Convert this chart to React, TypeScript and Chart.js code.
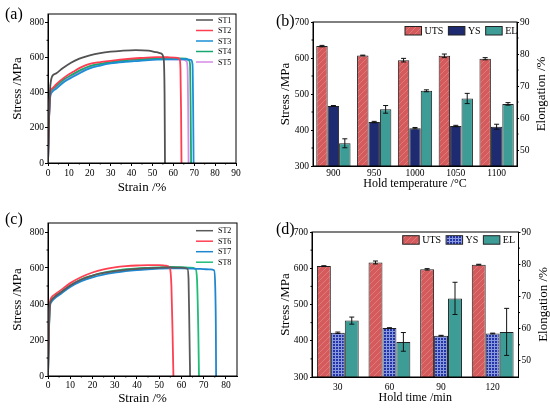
import React, { useEffect, useRef } from 'react';
import { Chart, registerables, ChartConfiguration, Plugin } from 'chart.js';

Chart.register(...registerables);

const SERIF = '"Liberation Serif", "Times New Roman", serif';

// (a) stress-strain curves, [strain %, stress MPa]
const st1: [number, number][] = [[0, 0], [0.5, 250], [1, 420], [1.5, 475], [2, 495], [4, 512], [7, 540], [11, 572], [15, 595], [20, 614], [25, 627], [30, 635], [35, 640], [42, 644], [48, 641], [52, 632], [54, 626], [55.3, 600], [55.8, 400], [56, 0]];
const st2: [number, number][] = [[0, 0], [0.5, 260], [1, 400], [2, 425], [4, 450], [8, 490], [12, 520], [16, 547], [20, 566], [25, 576], [30, 583], [37, 592], [44, 599], [52, 604], [58, 603], [62, 600], [63, 592], [63.4, 540], [63.7, 300], [63.9, 0]];
const st3: [number, number][] = [[0, 0], [0.5, 250], [1, 370], [2, 405], [4, 425], [8, 465], [12, 492], [16, 518], [20, 540], [25, 556], [30, 568], [37, 577], [44, 583], [52, 590], [60, 592], [66, 592], [68.5, 588], [69.2, 560], [69.5, 300], [69.7, 0]];
const st4: [number, number][] = [[0, 0], [0.5, 260], [1, 390], [2, 420], [4, 440], [8, 480], [12, 507], [16, 533], [20, 553], [25, 566], [30, 576], [37, 586], [44, 591], [52, 597], [60, 598], [66, 595], [67.5, 585], [68, 560], [68.3, 300], [68.5, 0]];
const st5: [number, number][] = [[0, 0], [0.5, 250], [1, 380], [2, 410], [4, 432], [8, 472], [12, 498], [16, 525], [20, 546], [25, 561], [30, 572], [37, 582], [44, 587], [52, 593], [60, 592], [65, 590], [66.3, 580], [66.8, 540], [67.1, 300], [67.3, 0]];

// (c) stress-strain curves
const st2c: [number, number][] = [[0, 0], [0.4, 240], [0.8, 385], [1.5, 420], [3, 440], [5, 458], [10, 503], [15, 536], [20, 558], [25, 573], [30, 583], [35, 590], [40, 595], [45, 599], [50, 601], [55, 603], [60, 602], [62.7, 596], [63.2, 540], [63.6, 250], [63.9, 0]];
const st6: [number, number][] = [[0, 0], [0.4, 250], [0.8, 400], [1.5, 435], [3, 452], [5, 470], [10, 516], [15, 550], [20, 575], [25, 592], [30, 603], [35, 610], [40, 614], [45, 616], [50, 616], [53, 613], [54.8, 600], [55.5, 500], [56, 250], [56.4, 0]];
const st7: [number, number][] = [[0, 0], [0.4, 230], [0.8, 375], [1.5, 410], [3, 432], [5, 450], [10, 495], [15, 527], [20, 548], [25, 563], [30, 574], [35, 583], [40, 589], [45, 593], [50, 596], [55, 598], [60, 598], [65, 597], [70, 594], [73, 592], [74.7, 588], [75.2, 500], [75.5, 250], [75.6, 0]];
const st8: [number, number][] = [[0, 0], [0.4, 240], [0.8, 390], [1.5, 420], [3, 440], [5, 458], [10, 503], [15, 537], [20, 558], [25, 574], [30, 585], [35, 593], [40, 598], [45, 601], [50, 604], [55, 606], [60, 605], [64, 602], [66.3, 596], [67, 540], [67.6, 250], [67.9, 0]];

const stressTicks = [0, 200, 400, 600, 800];
const strainTicksA = [0, 10, 20, 30, 40, 50, 60, 70, 80, 90];
const strainTicksC = [0, 10, 20, 30, 40, 50, 60, 70, 80];

// (b) properties vs hold temperature
const holdTemps = ['900', '950', '1000', '1050', '1100'];
const utsByTemp = [633, 607, 594, 606, 598];
const utsByTempErr = [2, 1, 5, 5, 3];
const ysByTemp = [467, 422, 405, 411, 409];
const ysByTempErr = [1, 2, 2, 2, 7];
const elByTemp = [52.1, 62.7, 68.5, 66.1, 64.4];
const elByTempErr = [1.4, 1.2, 0.3, 1.6, 0.4];

// (d) properties vs hold time
const holdTimes = ['30', '60', '90', '120'];
const utsByTime = [606, 616, 597, 610];
const utsByTimeErr = [1, 4, 2, 1];
const ysByTime = [422, 435, 414, 420];
const ysByTimeErr = [2, 1, 1, 1];
const elByTime = [62.5, 55.9, 69.4, 59.0];
const elByTimeErr = [1.1, 2.9, 5.0, 7.3];

const stressBarTicks = [300, 400, 500, 600, 700];
const elongationTicks = [50, 60, 70, 80, 90];

const mids = (t: number[]) => t.slice(1).map((v, i) => (v + t[i]) / 2);

const framePlugin: Plugin = {
    id: 'frame',
    afterDraw(chart) {
        const { ctx, chartArea: a } = chart;
        ctx.save();
        ctx.strokeStyle = '#000';
        ctx.lineWidth = 1;
        ctx.strokeRect(a.left, a.top, a.right - a.left, a.bottom - a.top);
        ctx.restore();
    },
};

const minorTicks = (axes: { id: string; values: number[] }[]): Plugin => ({
    id: 'minorTicks',
    afterDraw(chart) {
        const { ctx, chartArea: a } = chart;
        ctx.save();
        ctx.strokeStyle = '#000';
        ctx.lineWidth = 1;
        ctx.beginPath();
        axes.forEach(({ id, values }) => {
            const s = chart.scales[id];
            values.forEach((v) => {
                const p = s.getPixelForValue(v);
                if (s.isHorizontal()) {
                    ctx.moveTo(p, a.bottom);
                    ctx.lineTo(p, a.bottom + 1.5);
                } else if (s.position === 'left') {
                    ctx.moveTo(a.left, p);
                    ctx.lineTo(a.left - 1.5, p);
                } else {
                    ctx.moveTo(a.right, p);
                    ctx.lineTo(a.right + 1.5, p);
                }
            });
        });
        ctx.stroke();
        ctx.restore();
    },
});

const panelLabel = (text: string, x: number, y: number): Plugin => ({
    id: 'panelLabel',
    afterDraw(chart) {
        const ctx = chart.ctx;
        ctx.save();
        ctx.font = `16px ${SERIF}`;
        ctx.fillStyle = '#000';
        ctx.textBaseline = 'middle';
        ctx.fillText(text, x, y);
        ctx.restore();
    },
});

// line legend drawn inside the plot, top right
const lineLegend = (x: number, y: number, dy: number): Plugin => ({
    id: 'lineLegend',
    afterDraw(chart) {
        const ctx = chart.ctx;
        ctx.save();
        ctx.font = `8px ${SERIF}`;
        ctx.textBaseline = 'middle';
        chart.data.datasets.forEach((ds: any, i) => {
            const yy = y + i * dy;
            ctx.strokeStyle = ds.borderColor;
            ctx.lineWidth = 1.5;
            ctx.beginPath();
            ctx.moveTo(x, yy);
            ctx.lineTo(x + 17, yy);
            ctx.stroke();
            ctx.fillStyle = '#000';
            ctx.fillText(ds.label, x + 22, yy + 0.5);
        });
        ctx.restore();
    },
});

const barLegend = (x: number, y: number): Plugin => ({
    id: 'barLegend',
    afterDraw(chart) {
        const ctx = chart.ctx;
        ctx.save();
        ctx.font = `10px ${SERIF}`;
        ctx.textBaseline = 'middle';
        let xx = x;
        chart.data.datasets.forEach((ds: any) => {
            ctx.fillStyle = ds.backgroundColor;
            ctx.fillRect(xx, y, 16.5, 8.5);
            ctx.strokeStyle = '#222';
            ctx.lineWidth = 1;
            ctx.strokeRect(xx, y, 16.5, 8.5);
            ctx.fillStyle = '#000';
            ctx.fillText(ds.label, xx + 19.5, y + 4.8);
            xx += 19.5 + ctx.measureText(ds.label).width + 5;
        });
        ctx.restore();
    },
});

const errorBars: Plugin = {
    id: 'errorBars',
    afterDatasetsDraw(chart) {
        const ctx = chart.ctx;
        ctx.save();
        ctx.strokeStyle = '#111';
        ctx.lineWidth = 1;
        chart.data.datasets.forEach((ds: any, i) => {
            const errs: number[] | undefined = ds.errors;
            if (!errs) return;
            const meta = chart.getDatasetMeta(i);
            const ys = chart.scales[meta.yAxisID as string];
            meta.data.forEach((bar: any, j) => {
                const v = ds.data[j] as number;
                const top = ys.getPixelForValue(v + errs[j]);
                const bot = ys.getPixelForValue(v - errs[j]);
                ctx.beginPath();
                ctx.moveTo(bar.x, top);
                ctx.lineTo(bar.x, bot);
                ctx.moveTo(bar.x - 2.5, top);
                ctx.lineTo(bar.x + 2.5, top);
                ctx.moveTo(bar.x - 2.5, bot);
                ctx.lineTo(bar.x + 2.5, bot);
                ctx.stroke();
            });
        });
        ctx.restore();
    },
};

const rightTitle = (text: string, offset: number): Plugin => ({
    id: 'rightTitle',
    afterDraw(chart) {
        const { ctx, chartArea: a } = chart;
        ctx.save();
        ctx.translate(a.right + offset, (a.top + a.bottom) / 2);
        ctx.rotate(-Math.PI / 2);
        ctx.font = `13px ${SERIF}`;
        ctx.fillStyle = '#000';
        ctx.textAlign = 'center';
        ctx.textBaseline = 'middle';
        ctx.fillText(text, 0, 0);
        ctx.restore();
    },
});

function hatch(bg: string, line: string): CanvasPattern {
    const c = document.createElement('canvas');
    c.width = 6;
    c.height = 6;
    const g = c.getContext('2d')!;
    g.fillStyle = bg;
    g.fillRect(0, 0, 6, 6);
    g.strokeStyle = line;
    g.lineWidth = 1;
    g.beginPath();
    g.moveTo(-1, 7);
    g.lineTo(7, -1);
    g.moveTo(-1, 1);
    g.lineTo(1, -1);
    g.moveTo(5, 7);
    g.lineTo(7, 5);
    g.stroke();
    return g.createPattern(c, 'repeat')!;
}

function gridFill(bg: string, line: string): CanvasPattern {
    const c = document.createElement('canvas');
    c.width = 3;
    c.height = 3;
    const g = c.getContext('2d')!;
    g.fillStyle = bg;
    g.fillRect(0, 0, 3, 3);
    g.fillStyle = line;
    g.fillRect(0, 0, 3, 1);
    g.fillRect(0, 0, 1, 3);
    return g.createPattern(c, 'repeat')!;
}

const tickFont = { family: SERIF, size: 9.5 };
const titleFont = { family: SERIF, size: 13 };

type Curve = { label: string; points: [number, number][]; color: string };

function curveConfig(p: {
    curves: Curve[];
    xMax: number;
    xTicks: number[];
    padding: { left: number; top: number; right: number; bottom: number };
    yWidth: number;
    xHeight: number;
    xTickPad: number;
    label: string;
    labelY: number;
    legendY: number;
}): ChartConfiguration<'line'> {
    return {
        type: 'line',
        data: {
            datasets: p.curves.map((c) => ({
                label: c.label,
                data: c.points.map(([x, y]) => ({ x, y })),
                borderColor: c.color,
                backgroundColor: c.color,
                borderWidth: 1.8,
                pointRadius: 0,
                cubicInterpolationMode: 'monotone' as const,
            })),
        },
        options: {
            responsive: true,
            maintainAspectRatio: false,
            animation: false,
            layout: { padding: p.padding },
            plugins: { legend: { display: false }, tooltip: { enabled: false } },
            scales: {
                x: {
                    type: 'linear',
                    min: 0,
                    max: p.xMax,
                    afterBuildTicks: (s: any) => { s.ticks = p.xTicks.map((value) => ({ value })); },
                    afterFit: (s: any) => { s.height = p.xHeight; },
                    grid: { drawOnChartArea: false, tickLength: 3, color: '#000' },
                    border: { color: '#000' },
                    ticks: { font: tickFont, color: '#000', padding: p.xTickPad, maxRotation: 0 },
                    title: { display: true, text: 'Strain /%', font: titleFont, color: '#000', padding: 0 },
                },
                y: {
                    min: 0,
                    max: 850,
                    afterBuildTicks: (s: any) => { s.ticks = stressTicks.map((value) => ({ value })); },
                    afterFit: (s: any) => { s.width = p.yWidth; },
                    grid: { drawOnChartArea: false, tickLength: 3, color: '#000' },
                    border: { color: '#000' },
                    ticks: { font: tickFont, color: '#000', padding: 1 },
                    title: { display: true, text: 'Stress /MPa', font: titleFont, color: '#000', padding: 0 },
                },
            },
        },
        plugins: [
            framePlugin,
            minorTicks([
                { id: 'x', values: mids(p.xTicks) },
                { id: 'y', values: mids(stressTicks) },
            ]),
            lineLegend(196, p.legendY, 10.5),
            panelLabel(p.label, 5, p.labelY),
        ],
    };
}

function barConfig(p: {
    labels: string[];
    uts: number[]; utsErr: number[];
    ys: number[]; ysErr: number[];
    el: number[]; elErr: number[];
    ysFill: CanvasPattern | string;
    xTitle: string;
    catPct: number;
    padding: { left: number; top: number; right: number; bottom: number };
    yWidth: number;
    y1Width: number;
    xHeight: number;
    xTickPad: number;
    label: string;
    labelY: number;
    legendX: number;
    legendY: number;
}): ChartConfiguration<'bar'> {
    const common = { borderColor: '#222', borderWidth: 1, borderSkipped: false as const, barPercentage: 1, categoryPercentage: p.catPct };
    return {
        type: 'bar',
        data: {
            labels: p.labels,
            datasets: [
                { label: 'UTS', data: p.uts, errors: p.utsErr, backgroundColor: hatch('#d45a5c', '#dd7b7c'), yAxisID: 'y', ...common } as any,
                { label: 'YS', data: p.ys, errors: p.ysErr, backgroundColor: p.ysFill, yAxisID: 'y', ...common } as any,
                { label: 'EL', data: p.el, errors: p.elErr, backgroundColor: '#3d9d96', yAxisID: 'y1', ...common } as any,
            ],
        },
        options: {
            responsive: true,
            maintainAspectRatio: false,
            animation: false,
            layout: { padding: p.padding },
            plugins: { legend: { display: false }, tooltip: { enabled: false } },
            scales: {
                x: {
                    afterFit: (s: any) => { s.height = p.xHeight; },
                    grid: { drawOnChartArea: false, tickLength: 2, color: 'rgba(0,0,0,0)' },
                    border: { color: '#000' },
                    ticks: { font: tickFont, color: '#000', padding: p.xTickPad },
                    title: { display: true, text: p.xTitle, font: { family: SERIF, size: 12 }, color: '#000', padding: 0 },
                },
                y: {
                    position: 'left',
                    min: 300,
                    max: 700,
                    afterBuildTicks: (s: any) => { s.ticks = stressBarTicks.map((value) => ({ value })); },
                    afterFit: (s: any) => { s.width = p.yWidth; },
                    grid: { drawOnChartArea: false, tickLength: 2, color: '#000' },
                    border: { color: '#000' },
                    ticks: { font: tickFont, color: '#000', padding: 2 },
                    title: { display: true, text: 'Stress /MPa', font: titleFont, color: '#000', padding: 0 },
                },
                y1: {
                    position: 'right',
                    min: 45,
                    max: 90,
                    afterBuildTicks: (s: any) => { s.ticks = elongationTicks.map((value) => ({ value })); },
                    afterFit: (s: any) => { s.width = p.y1Width; },
                    grid: { drawOnChartArea: false, tickLength: 2, color: '#000' },
                    border: { color: '#000' },
                    ticks: { font: tickFont, color: '#000', padding: 1 },
                },
            },
        },
        plugins: [
            errorBars,
            framePlugin,
            minorTicks([
                { id: 'y', values: mids(stressBarTicks) },
                { id: 'y1', values: mids(elongationTicks) },
            ]),
            barLegend(p.legendX, p.legendY),
            rightTitle('Elongation /%', 25),
            panelLabel(p.label, 1, p.labelY),
        ],
    };
}

const makeA = () =>
    curveConfig({
        curves: [
            { label: 'ST1', points: st1, color: '#525252' },
            { label: 'ST2', points: st2, color: '#ff3d50' },
            { label: 'ST3', points: st3, color: '#1b8fd6' },
            { label: 'ST4', points: st4, color: '#16a870' },
            { label: 'ST5', points: st5, color: '#d68be6' },
        ],
        xMax: 90,
        xTicks: strainTicksA,
        padding: { left: 10, top: 14, right: 39, bottom: 10 },
        yWidth: 38,
        xHeight: 32,
        xTickPad: 2,
        label: '(a)',
        labelY: 15,
        legendY: 20,
    });

const makeC = () =>
    curveConfig({
        curves: [
            { label: 'ST2', points: st2c, color: '#5a5a5a' },
            { label: 'ST6', points: st6, color: '#ff4052' },
            { label: 'ST7', points: st7, color: '#1f87cf' },
            { label: 'ST8', points: st8, color: '#1fbd78' },
        ],
        xMax: 85,
        xTicks: strainTicksC,
        padding: { left: 10, top: 18, right: 38, bottom: 3 },
        yWidth: 38,
        xHeight: 30,
        xTickPad: 1,
        label: '(c)',
        labelY: 15,
        legendY: 25.7,
    });

const makeB = () =>
    barConfig({
        labels: holdTemps,
        uts: utsByTemp, utsErr: utsByTempErr,
        ys: ysByTemp, ysErr: ysByTempErr,
        el: elByTemp, elErr: elByTempErr,
        ysFill: '#1e2b70',
        xTitle: 'Hold temperature /°C',
        catPct: 0.84,
        padding: { left: 3, top: 22, right: 0, bottom: 14 },
        yWidth: 35,
        y1Width: 33,
        xHeight: 25,
        xTickPad: 0,
        label: '(b)',
        labelY: 22,
        legendX: 130,
        legendY: 26.5,
    });

const makeD = () =>
    barConfig({
        labels: holdTimes,
        uts: utsByTime, utsErr: utsByTimeErr,
        ys: ysByTime, ysErr: ysByTimeErr,
        el: elByTime, elErr: elByTimeErr,
        ysFill: gridFill('#2436a6', '#8a98de'),
        xTitle: 'Hold time /min',
        catPct: 0.81,
        padding: { left: 3, top: 27, right: 0, bottom: 4 },
        yWidth: 34,
        y1Width: 31.5,
        xHeight: 28,
        xTickPad: 3,
        label: '(d)',
        labelY: 25,
        legendX: 127.7,
        legendY: 30.7,
    });

type PanelProps = { left: number; top: number; width: number; height: number; make: () => ChartConfiguration<any> };

const Panel: React.FC<PanelProps> = ({ left, top, width, height, make }) => {
    const canvasRef = useRef<HTMLCanvasElement>(null);

    useEffect(() => {
        if (!canvasRef.current) return;
        const chart = new Chart(canvasRef.current, make());
        return () => chart.destroy();
    }, [make]);

    return (
        <div style={{ position: 'absolute', left, top, width, height }}>
            <canvas ref={canvasRef}></canvas>
        </div>
    );
};

export default function App() {
    return (
        <div style={{ position: 'fixed', left: 0, top: 0, width: 550, height: 409, background: '#fff' }}>
            <Panel left={0} top={0} width={275} height={205} make={makeA} />
            <Panel left={275} top={0} width={275} height={205} make={makeB} />
            <Panel left={0} top={205} width={275} height={204} make={makeC} />
            <Panel left={275} top={205} width={275} height={204} make={makeD} />
        </div>
    );
}
